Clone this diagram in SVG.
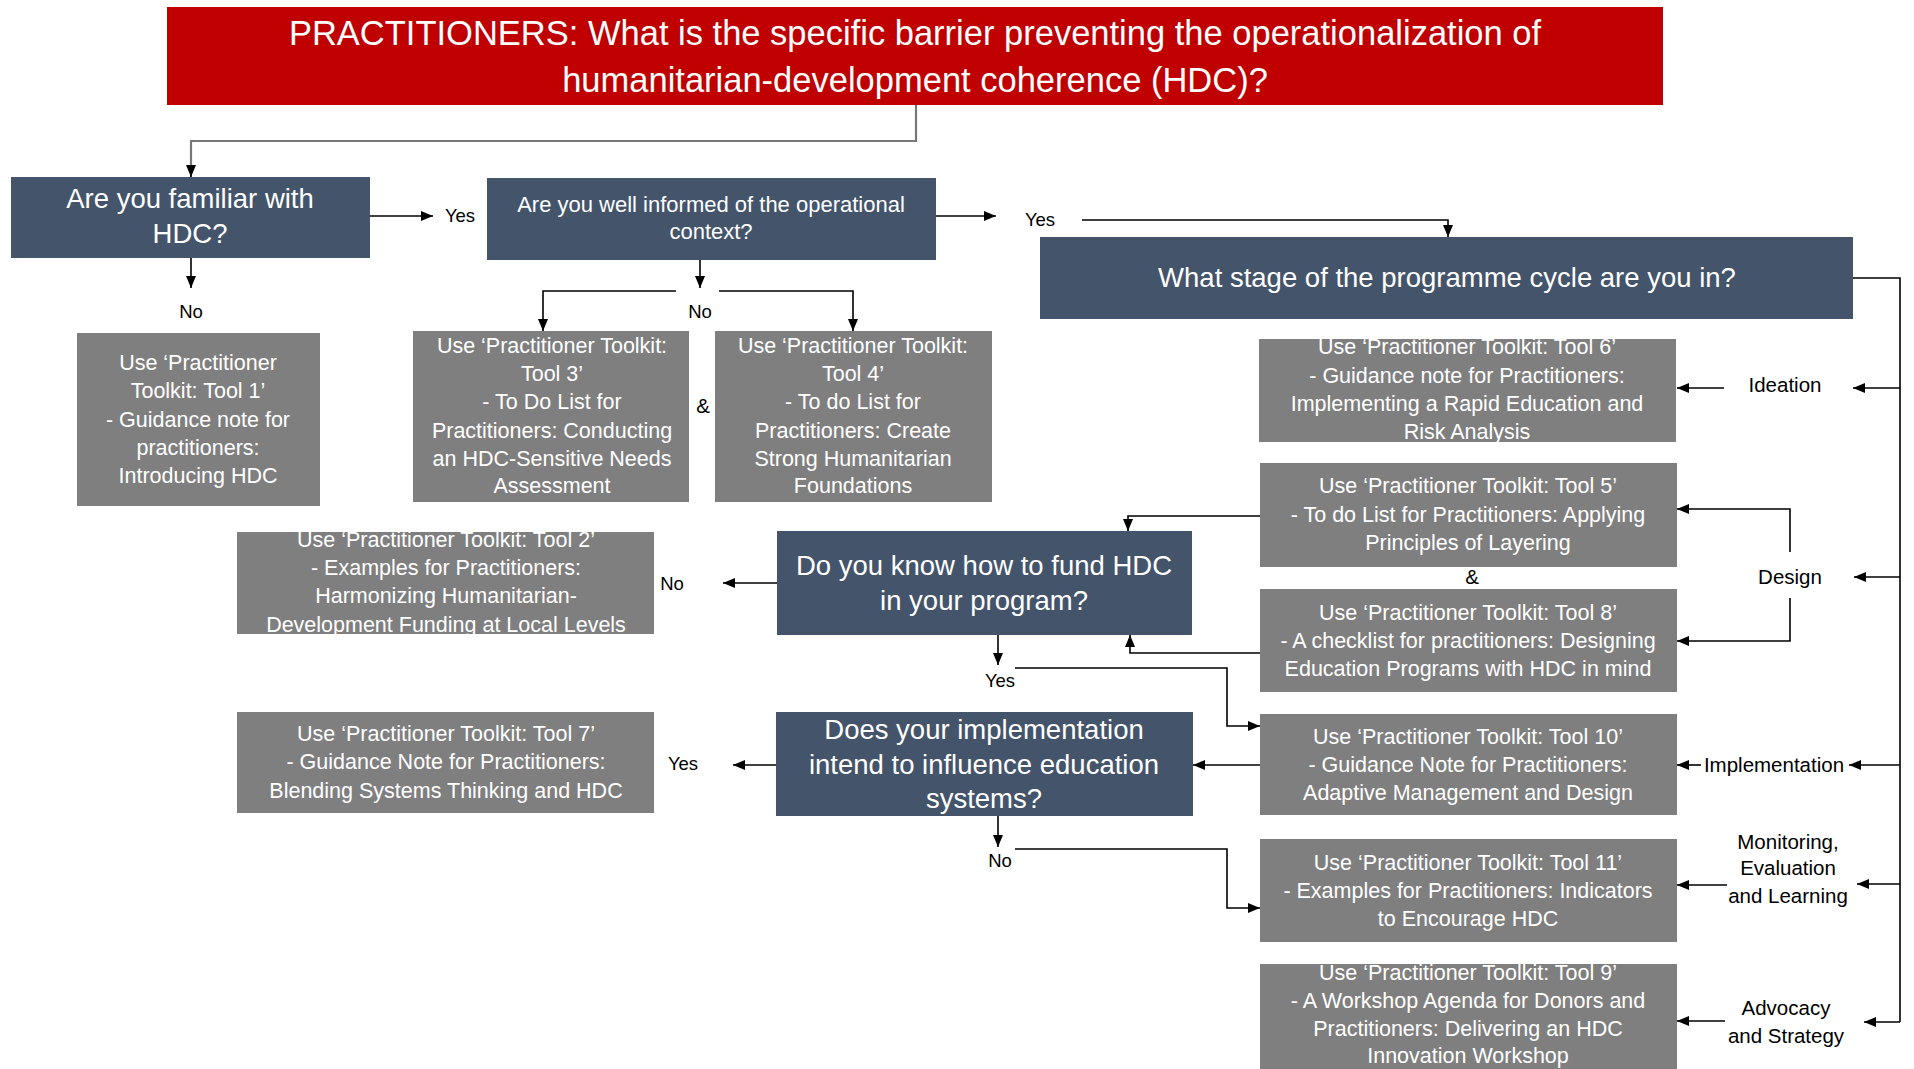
<svg xmlns="http://www.w3.org/2000/svg" width="1914" height="1069" viewBox="0 0 1914 1069">
<defs>
<style>
text{font-family:"Liberation Sans",Arial,sans-serif;text-anchor:middle}
.red{fill:#C00000}
.dark{fill:#44546A}
.gray{fill:#7F7F7F}
.title{font-size:34.5px;fill:#fff}
.q{font-size:27.5px;fill:#fff}
.q2{font-size:22px;fill:#fff}
.tool{font-size:21.5px;fill:#fff}
.lbl{font-size:18.5px;fill:#000}
.stage{font-size:20.5px;fill:#000}
.c{fill:none;stroke:#000;stroke-width:1.6}
.cg{fill:none;stroke:#777;stroke-width:2.2}
.a{marker-end:url(#arr)}
</style>
<marker id="arr" viewBox="0 0 12 10" refX="12" refY="5" markerWidth="12" markerHeight="10" markerUnits="userSpaceOnUse" orient="auto">
<path d="M0,0 L12,5 L0,10 z" fill="#000"/>
</marker>
</defs>
<rect width="1914" height="1069" fill="#fff"/>

<g id="connectors">
<path class="cg" d="M916,105 V141 H191 V165"/>
<path class="c a" d="M191,165 V177"/>
<path class="c a" d="M370,216 H433"/>
<path class="c a" d="M191,258 V288"/>
<path class="c a" d="M700,260 V288"/>
<path class="c a" d="M676,291 H543 V331"/>
<path class="c a" d="M719,291 H853 V331"/>
<path class="c a" d="M936,216 H996"/>
<path class="c a" d="M1082,220 H1448 V237"/>
<path class="c" d="M1853,278 H1900 V1022"/>
<path class="c a" d="M1900,388 H1853"/>
<path class="c a" d="M1724,388 H1677"/>
<path class="c a" d="M1900,577 H1854"/>
<path class="c a" d="M1790,552 V509 H1677"/>
<path class="c a" d="M1790,598 V641 H1677"/>
<path class="c a" d="M1900,765 H1849"/>
<path class="c a" d="M1701,765 H1677"/>
<path class="c a" d="M1900,884 H1857"/>
<path class="c a" d="M1727,885 H1677"/>
<path class="c a" d="M1900,1022 H1864"/>
<path class="c a" d="M1725,1021 H1677"/>
<path class="c a" d="M1260,516 H1128 V531"/>
<path class="c a" d="M1260,653 H1130 V635"/>
<path class="c a" d="M777,583 H723"/>
<path class="c a" d="M998,635 V665"/>
<path class="c a" d="M1015,668 H1227 V726 H1260"/>
<path class="c a" d="M1260,765 H1193"/>
<path class="c a" d="M776,765 H733"/>
<path class="c a" d="M998,816 V847"/>
<path class="c a" d="M1015,849 H1227 V908 H1260"/>
</g>

<g id="labels">
<text class="lbl" x="460" y="222">Yes</text>
<text class="lbl" x="191" y="318">No</text>
<text class="lbl" x="700" y="318">No</text>
<text class="lbl" x="1040" y="226">Yes</text>
<text class="stage" x="703" y="413">&amp;</text>
<text class="stage" x="1472" y="584">&amp;</text>
<text class="lbl" x="672" y="590">No</text>
<text class="lbl" x="1000" y="687">Yes</text>
<text class="lbl" x="683" y="770">Yes</text>
<text class="lbl" x="1000" y="867">No</text>
<text class="stage" x="1785" y="392">Ideation</text>
<text class="stage" x="1790" y="584">Design</text>
<text class="stage" x="1774" y="772">Implementation</text>
<text class="stage" x="1788" y="849">Monitoring,</text>
<text class="stage" x="1788" y="875">Evaluation</text>
<text class="stage" x="1788" y="903">and Learning</text>
<text class="stage" x="1786" y="1015">Advocacy</text>
<text class="stage" x="1786" y="1043">and Strategy</text>
</g>

<g id="node-title">
<rect class="red" x="167" y="7" width="1496" height="98"/>
<text class="title" x="915" y="45">PRACTITIONERS: What is the specific barrier preventing the operationalization of</text>
<text class="title" x="915" y="92">humanitarian-development coherence (HDC)?</text>
</g>

<g id="node-familiar">
<rect class="dark" x="11" y="177" width="359" height="81"/>
<text class="q" x="190" y="208">Are you familiar with</text>
<text class="q" x="190" y="243">HDC?</text>
</g>

<g id="node-informed">
<rect class="dark" x="487" y="178" width="449" height="82"/>
<text class="q2" x="711" y="212">Are you well informed of the operational</text>
<text class="q2" x="711" y="239">context?</text>
</g>

<g id="node-stage">
<rect class="dark" x="1040" y="237" width="813" height="82"/>
<text class="q" x="1447" y="287">What stage of the programme cycle are you in?</text>
</g>

<g id="node-tool1">
<rect class="gray" x="77" y="333" width="243" height="173"/>
<text class="tool" x="198" y="370">Use ‘Practitioner</text>
<text class="tool" x="198" y="398">Toolkit: Tool 1’</text>
<text class="tool" x="198" y="427">- Guidance note for</text>
<text class="tool" x="198" y="455">practitioners:</text>
<text class="tool" x="198" y="483">Introducing HDC</text>
</g>

<g id="node-tool3">
<rect class="gray" x="413" y="331" width="276" height="171"/>
<text class="tool" x="552" y="353">Use ‘Practitioner Toolkit:</text>
<text class="tool" x="552" y="381">Tool 3’</text>
<text class="tool" x="552" y="409">- To Do List for</text>
<text class="tool" x="552" y="438">Practitioners: Conducting</text>
<text class="tool" x="552" y="466">an HDC-Sensitive Needs</text>
<text class="tool" x="552" y="493">Assessment</text>
</g>

<g id="node-tool4">
<rect class="gray" x="715" y="331" width="277" height="171"/>
<text class="tool" x="853" y="353">Use ‘Practitioner Toolkit:</text>
<text class="tool" x="853" y="381">Tool 4’</text>
<text class="tool" x="853" y="409">- To do List for</text>
<text class="tool" x="853" y="438">Practitioners: Create</text>
<text class="tool" x="853" y="466">Strong Humanitarian</text>
<text class="tool" x="853" y="493">Foundations</text>
</g>

<g id="node-tool6">
<rect class="gray" x="1259" y="339" width="417" height="103"/>
<text class="tool" x="1467" y="354">Use ‘Practitioner Toolkit: Tool 6’</text>
<text class="tool" x="1467" y="383">- Guidance note for Practitioners:</text>
<text class="tool" x="1467" y="411">Implementing a Rapid Education and</text>
<text class="tool" x="1467" y="439">Risk Analysis</text>
</g>

<g id="node-tool5">
<rect class="gray" x="1260" y="463" width="417" height="104"/>
<text class="tool" x="1468" y="493">Use ‘Practitioner Toolkit: Tool 5’</text>
<text class="tool" x="1468" y="522">- To do List for Practitioners: Applying</text>
<text class="tool" x="1468" y="550">Principles of Layering</text>
</g>

<g id="node-tool8">
<rect class="gray" x="1260" y="589" width="417" height="103"/>
<text class="tool" x="1468" y="620">Use ‘Practitioner Toolkit: Tool 8’</text>
<text class="tool" x="1468" y="648">- A checklist for practitioners: Designing</text>
<text class="tool" x="1468" y="676">Education Programs with HDC in mind</text>
</g>

<g id="node-tool10">
<rect class="gray" x="1260" y="714" width="417" height="101"/>
<text class="tool" x="1468" y="744">Use ‘Practitioner Toolkit: Tool 10’</text>
<text class="tool" x="1468" y="772">- Guidance Note for Practitioners:</text>
<text class="tool" x="1468" y="800">Adaptive Management and Design</text>
</g>

<g id="node-tool11">
<rect class="gray" x="1260" y="839" width="417" height="103"/>
<text class="tool" x="1468" y="870">Use ‘Practitioner Toolkit: Tool 11’</text>
<text class="tool" x="1468" y="898">- Examples for Practitioners: Indicators</text>
<text class="tool" x="1468" y="926">to Encourage HDC</text>
</g>

<g id="node-tool9">
<rect class="gray" x="1260" y="964" width="417" height="105"/>
<text class="tool" x="1468" y="980">Use ‘Practitioner Toolkit: Tool 9’</text>
<text class="tool" x="1468" y="1008">- A Workshop Agenda for Donors and</text>
<text class="tool" x="1468" y="1036">Practitioners: Delivering an HDC</text>
<text class="tool" x="1468" y="1063">Innovation Workshop</text>
</g>

<g id="node-tool2">
<rect class="gray" x="237" y="532" width="417" height="102"/>
<text class="tool" x="446" y="547">Use ‘Practitioner Toolkit: Tool 2’</text>
<text class="tool" x="446" y="575">- Examples for Practitioners:</text>
<text class="tool" x="446" y="603">Harmonizing Humanitarian-</text>
<text class="tool" x="446" y="632">Development Funding at Local Levels</text>
</g>

<g id="node-fund">
<rect class="dark" x="777" y="531" width="415" height="104"/>
<text class="q" x="984" y="575">Do you know how to fund HDC</text>
<text class="q" x="984" y="610">in your program?</text>
</g>

<g id="node-tool7">
<rect class="gray" x="237" y="712" width="417" height="101"/>
<text class="tool" x="446" y="741">Use ‘Practitioner Toolkit: Tool 7’</text>
<text class="tool" x="446" y="769">- Guidance Note for Practitioners:</text>
<text class="tool" x="446" y="798">Blending Systems Thinking and HDC</text>
</g>

<g id="node-influence">
<rect class="dark" x="776" y="712" width="417" height="104"/>
<text class="q" x="984" y="739">Does your implementation</text>
<text class="q" x="984" y="774">intend to influence education</text>
<text class="q" x="984" y="808">systems?</text>
</g>
</svg>
